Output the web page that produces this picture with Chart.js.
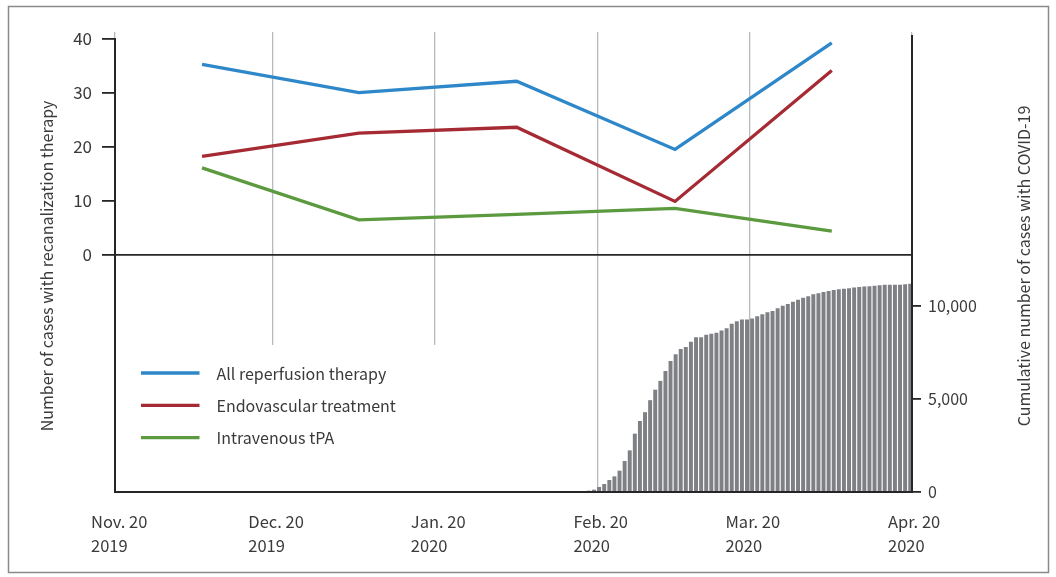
<!DOCTYPE html>
<html>
<head>
<meta charset="utf-8">
<script src="https://cdn.jsdelivr.net/npm/chart.js@4.4.1/dist/chart.umd.min.js"></script>
<style>
  html, body { margin: 0; padding: 0; background: #fff; }
  #c { display: block; }
</style>
</head>
<body>
<canvas id="c" width="1056" height="577"></canvas>
<script>
// ---- Data ----
// x axis: days since Nov. 20, 2019
const tickDays = [0, 30, 61, 92, 121, 152];
const tickMonths = ['Nov. 20', 'Dec. 20', 'Jan. 20', 'Feb. 20', 'Mar. 20', 'Apr. 20'];
const tickYears = ['2019', '2019', '2020', '2020', '2020', '2020'];

// monthly periods (plotted at period centre, days since Nov. 20, 2019)
const periodDays = [16.6, 46.5, 76.6, 106.8, 136.7];
const allReperfusion = [35.2, 30.0, 32.1, 19.5, 39.2];
const endovascular = [18.2, 22.5, 23.6, 9.9, 34.1];
const intravenousTPA = [16.1, 6.5, 7.5, 8.6, 4.4];

const leftTicks = [0, 10, 20, 30, 40];
const rightTicks = [0, 5000, 10000];

const seriesNames = ['All reperfusion therapy', 'Endovascular treatment', 'Intravenous tPA'];
const seriesColors = ['#2d87c8', '#a52a33', '#5b9a3e'];

// daily cumulative COVID-19 cases (day index of the bar strip)
const covidDays = [91, 92, 93, 94, 95, 96, 97, 98, 99, 100,
  101, 102, 103, 104, 105, 106, 107, 108, 109, 110,
  111, 112, 113, 114, 115, 116, 117, 118, 119, 120,
  121, 122, 123, 124, 125, 126, 127, 128, 129, 130,
  131, 132, 133, 134, 135, 136, 137, 138, 139, 140,
  141, 142, 143, 144, 145, 146, 147, 148, 149, 150,
  151, 152, 153, 154];
const covidCumulative = [54, 108, 253, 414, 629, 823, 1129, 1651, 2220, 3118,
  3801, 4274, 4919, 5484, 5957, 6489, 7027, 7382, 7672, 7780,
  8065, 8306, 8306, 8441, 8484, 8548, 8667, 8790, 9022, 9167,
  9258, 9263, 9312, 9425, 9543, 9651, 9715, 9866, 9989, 10091,
  10215, 10312, 10430, 10500, 10608, 10672, 10737, 10790, 10844, 10887,
  10903, 10941, 10978, 11005, 11032, 11048, 11075, 11102, 11118, 11118,
  11124, 11129, 11145, 11172];

const leftTitle = 'Number of cases with recanalization therapy';
const rightTitle = 'Cumulative number of cases with COVID-19';

// ---- Styling ----
const FONT = "'Noto Sans CJK KR', 'Noto Sans', sans-serif";
const TEXT = '#3a3a3a';
const AXIS = '#262626';

const toXY = (xs, ys) => xs.map((x, i) => ({ x: x, y: ys[i] }));

const lineDs = (label, vals, color) => ({
  type: 'line', label: label, data: toXY(periodDays, vals),
  xAxisID: 'x', yAxisID: 'y',
  borderColor: color, backgroundColor: color, borderWidth: 3.3,
  pointRadius: 0, tension: 0, fill: false, order: 1,
  borderCapStyle: 'butt', borderJoinStyle: 'miter'
});

const decorPlugin = {
  id: 'decor',
  afterDraw(chart) {
    const ctx = chart.ctx;
    const s = chart.scales;
    const xL = s.x.getPixelForValue(tickDays[0]);
    const xR = s.x.getPixelForValue(tickDays[tickDays.length - 1]);
    const yB = s.y2.getPixelForValue(0);
    ctx.save();
    // legend panel
    ctx.fillStyle = '#ffffff';
    ctx.fillRect(xL + 2, 345, 330, yB - 346);
    const lx = 141, ly = [373, 405.3, 437.6];
    seriesNames.forEach((name, i) => {
      ctx.strokeStyle = seriesColors[i];
      ctx.lineWidth = 3.3;
      ctx.beginPath();
      ctx.moveTo(lx, ly[i]);
      ctx.lineTo(lx + 58.5, ly[i]);
      ctx.stroke();
      ctx.fillStyle = TEXT;
      ctx.font = '16px ' + FONT;
      ctx.textAlign = 'left';
      ctx.textBaseline = 'middle';
      ctx.fillText(name, 216.5, ly[i] + 0.5);
    });
    // axis lines
    ctx.strokeStyle = AXIS;
    ctx.lineWidth = 2;
    ctx.beginPath();
    ctx.moveTo(xL, s.y.getPixelForValue(leftTicks[leftTicks.length - 1]) - 0.5);
    ctx.lineTo(xL, yB + 1);
    ctx.moveTo(xR, 35);
    ctx.lineTo(xR, yB + 1);
    ctx.moveTo(xL - 1, yB);
    ctx.lineTo(xR + 1, yB);
    ctx.stroke();
    // axis titles
    ctx.fillStyle = TEXT;
    ctx.font = '16px ' + FONT;
    ctx.textAlign = 'center';
    ctx.textBaseline = 'middle';
    ctx.save();
    ctx.translate(47, 266);
    ctx.rotate(-Math.PI / 2);
    ctx.fillText(leftTitle, 0, 0);
    ctx.restore();
    ctx.save();
    ctx.translate(1024, 266);
    ctx.rotate(-Math.PI / 2);
    ctx.fillText(rightTitle, 0, 0);
    ctx.restore();
    // frame
    ctx.strokeStyle = '#8a8a8a';
    ctx.lineWidth = 1.5;
    ctx.strokeRect(8.5, 6.5, 1040, 566);
    ctx.restore();
  }
};

new Chart(document.getElementById('c'), {
  data: {
    datasets: [
      lineDs(seriesNames[0], allReperfusion, seriesColors[0]),
      lineDs(seriesNames[1], endovascular, seriesColors[1]),
      lineDs(seriesNames[2], intravenousTPA, seriesColors[2]),
      {
        type: 'bar', label: 'COVID-19', data: toXY(covidDays, covidCumulative),
        xAxisID: 'x2', yAxisID: 'y2',
        backgroundColor: '#7e8084', borderWidth: 0,
        barThickness: 3.3, order: 2
      }
    ]
  },
  options: {
    responsive: false,
    animation: false,
    devicePixelRatio: 1,
    layout: { padding: { top: 32, left: 0, right: 0, bottom: 0 } },
    plugins: { legend: { display: false }, tooltip: { enabled: false } },
    scales: {
      x: {
        type: 'linear', position: 'bottom', min: 0, max: 152, offset: false,
        afterBuildTicks: (sc) => { sc.ticks = tickDays.map(v => ({ value: v })); },
        afterFit: (sc) => { sc.height = 85; },
        grid: { color: '#b7bbbf', lineWidth: 1.3, drawTicks: false },
        border: { display: false },
        ticks: {
          autoSkip: false, maxRotation: 0, minRotation: 0,
          align: 'start', labelOffset: -24, padding: 17,
          color: TEXT, font: { family: FONT, size: 16.5, lineHeight: 1.5 },
          callback: (v) => {
            const i = tickDays.indexOf(v);
            return i < 0 ? '' : [tickMonths[i], tickYears[i]];
          }
        }
      },
      x2: {
        type: 'linear', position: 'bottom', display: true, offset: false,
        min: -1.6, max: 154.67,
        afterFit: (sc) => { sc.height = 0; },
        grid: { display: false, drawTicks: false },
        border: { display: false },
        ticks: { display: false }
      },
      y: {
        type: 'linear', position: 'left', min: -43.79, max: 41.2,
        afterBuildTicks: (sc) => { sc.ticks = leftTicks.map(v => ({ value: v })); },
        afterFit: (sc) => { sc.width = 115; },
        grid: {
          color: (c) => (c.tick && c.tick.value === 0) ? AXIS : 'rgba(0,0,0,0)',
          tickColor: AXIS, lineWidth: 1.8, tickLength: 13
        },
        border: { display: false },
        ticks: { padding: 10, color: TEXT, font: { family: FONT, size: 17 } }
      },
      y2: {
        type: 'linear', position: 'right', min: 0, max: 24731,
        afterBuildTicks: (sc) => { sc.ticks = rightTicks.map(v => ({ value: v })); },
        afterFit: (sc) => { sc.width = 144; },
        grid: { drawOnChartArea: false, tickColor: AXIS, lineWidth: 1.8, tickLength: 9 },
        border: { display: false },
        ticks: {
          padding: 7, color: TEXT, font: { family: FONT, size: 16 },
          callback: (v) => v.toLocaleString('en-US')
        }
      }
    }
  },
  plugins: [decorPlugin]
});
</script>
</body>
</html>
